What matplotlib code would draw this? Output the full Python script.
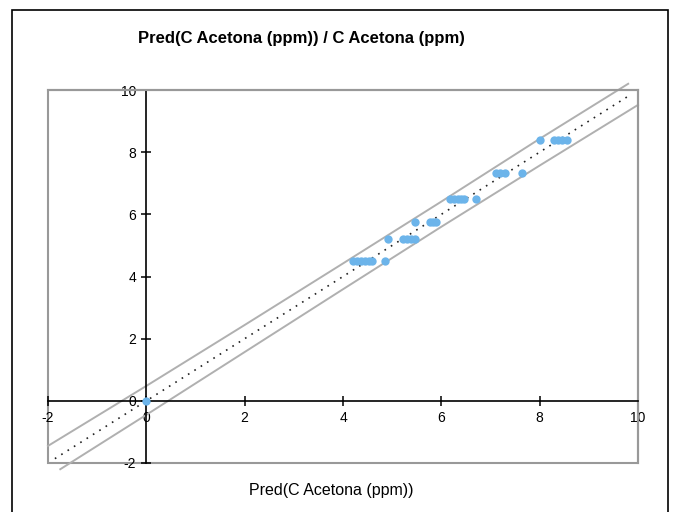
import matplotlib
matplotlib.use("Agg")
import matplotlib.pyplot as plt
from matplotlib.patches import Rectangle

plt.rcParams['font.family'] = ['Liberation Sans', 'DejaVu Sans']

# predicted vs actual (C Acetona, ppm)
pred = [0.0,
        4.20, 4.28, 4.36, 4.44, 4.52, 4.60, 4.86,
        4.92, 5.22, 5.30, 5.38, 5.46,
        5.47, 5.76, 5.84, 5.90,
        6.17, 6.25, 6.33, 6.41, 6.47, 6.70,
        7.12, 7.20, 7.30, 7.65,
        8.00, 8.30, 8.38, 8.46, 8.55]
actual = [0.0,
          4.5, 4.5, 4.5, 4.5, 4.5, 4.5, 4.5,
          5.2, 5.2, 5.2, 5.2, 5.2,
          5.75, 5.75, 5.75, 5.75,
          6.5, 6.5, 6.5, 6.5, 6.5, 6.5,
          7.33, 7.33, 7.33, 7.33,
          8.38, 8.38, 8.38, 8.38, 8.38]

# fit line and confidence band
fit_x = [-1.86, 9.85]
fit_y = [-1.86, 9.85]
band_up_x = [-2.0, 0.0, 2.0, 4.0, 6.0, 8.0, 9.8]
band_up_y = [-1.45, 0.48, 2.44, 4.42, 6.41, 8.43, 10.2]
band_lo_x = [-1.75, 0.0, 2.0, 4.0, 6.0, 8.0, 10.0]
band_lo_y = [-2.2, -0.45, 1.57, 3.59, 5.6, 7.57, 9.52]

ticks = [-2, 0, 2, 4, 6, 8, 10]

fig = plt.figure(figsize=(6.75, 5.12), dpi=100)
W, H = 675, 512
ax = fig.add_axes([48 / W, (H - 463) / H, (638 - 48) / W, (463 - 90) / H])
ax.set_xlim(-2, 10)
ax.set_ylim(-2, 10)

# gray box around the plot
for s in ['top', 'right']:
    ax.spines[s].set_color('#999999')
    ax.spines[s].set_linewidth(1.5)
ax.add_patch(Rectangle((0, 0), 1, 1, transform=ax.transAxes, fill=False,
                       edgecolor='#999999', linewidth=1.5, zorder=0, clip_on=False))
# axes through the origin
ax.spines['left'].set_position('zero')
ax.spines['bottom'].set_position('zero')
ax.spines['left'].set_color('black')
ax.spines['bottom'].set_color('black')
ax.spines['left'].set_linewidth(1.2)
ax.spines['bottom'].set_linewidth(1.2)

ax.set_xticks(ticks)
ax.set_yticks(ticks)
ax.set_xticklabels([str(t) for t in ticks])
ax.set_yticklabels([str(t) for t in ticks])
ax.tick_params(direction='inout', length=7, width=1.1, labelsize=10, pad=4)

ax.plot(band_up_x, band_up_y, color='#b0b0b0', lw=1.4, clip_on=False, zorder=2)
ax.plot(band_lo_x, band_lo_y, color='#b0b0b0', lw=1.4, clip_on=False, zorder=2)
ax.plot(fit_x, fit_y, color='#222222', lw=1.2, linestyle=(0, (1, 3.5)), zorder=3)
ax.plot(pred, actual, 'o', color='#6cb4ea', ms=6, mec='none', zorder=4, clip_on=False)

fig.text(301 / W, 1 - 38 / H, 'Pred(C Acetona (ppm)) / C Acetona (ppm)',
         ha='center', va='center', fontsize=12, fontweight='bold')
fig.text(331 / W, 1 - 490 / H, 'Pred(C Acetona (ppm))',
         ha='center', va='center', fontsize=11.5)

# outer frame
fig.patches.append(Rectangle((12 / W, -0.1), (668 - 12) / W, 0.1 + 1 - 10 / H,
                             transform=fig.transFigure, fill=False,
                             edgecolor='black', linewidth=1.2))

fig.savefig('out.png', dpi=100)
